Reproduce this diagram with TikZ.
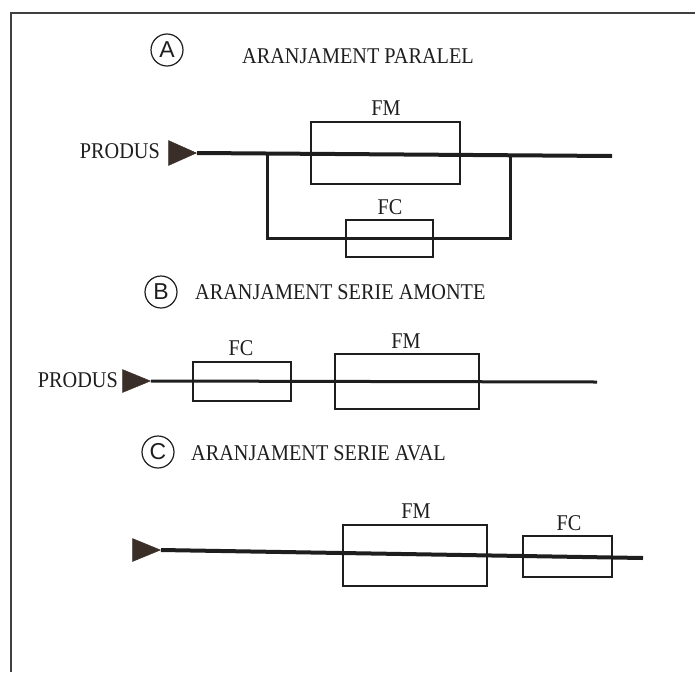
\documentclass[tikz,border=0pt]{standalone}
\usepackage{fontspec}
\setmainfont{Liberation Serif}
\newfontfamily\circfont{Liberation Sans}
\usetikzlibrary{shapes.geometric}
\definecolor{ink}{HTML}{1E1E1E}
\definecolor{tri}{HTML}{3A2E28}
\begin{document}
\begin{tikzpicture}[x=1pt,y=-1pt,
  box/.style 2 args={draw=ink,line width=1.3pt,inner sep=0pt,minimum width=#1,minimum height=#2},
  lbl/.style={inner sep=0pt,text=ink,xscale=0.9,font=\fontsize{22.5}{22.5}\selectfont},
  ttl/.style={inner sep=0pt,text=ink,anchor=west,xscale=0.9,font=\fontsize{22.5}{22.5}\selectfont},
  circ/.style={draw=ink,circle,line width=1.2pt,minimum size=32pt,inner sep=0pt,text=ink,font=\circfont\fontsize{23}{23}\selectfont},
  arrowhead/.style={isosceles triangle,isosceles triangle stretches,fill=tri,draw=tri,inner sep=0pt,minimum width=25pt,minimum height=28pt},
  flow/.style={line width=4pt,ink},
  byp/.style={line width=3pt,ink},
  frame/.style={line width=2pt,draw=ink!85}]
\useasboundingbox (0,0) rectangle (695,672);
% frame
\coordinate (f1) at (11,672); \coordinate (f2) at (11,13); \coordinate (f3) at (695,13);
\draw[frame] (f1) -- (f2) -- (f3);

% ===== A =====
\node[circ] (cA) at (167,50) {A};
\node[ttl] (tA) at (242,56) {ARANJAMENT PARALEL};
\node[lbl,anchor=east] (pA) at (160,151) {PRODUS};
\node[arrowhead,anchor=apex] (hA) at (197,153) {};
\coordinate (eA) at (612,156);
\coordinate (sA) at (267,154);
\coordinate (jA) at (510,155);
\coordinate (bA) at (267,238);
\draw[flow] (hA.apex) -- (eA);
\draw[byp] (sA) -- (bA) -| (jA);
\node[box={149pt}{62pt}] (fmA) at (385.5,153) {};
\node[box={87pt}{37pt}] (fcA) at (389.5,238.5) {};
\node[lbl] (lfmA) at (386,108) {FM};
\node[lbl] (lfcA) at (390,207) {FC};

% ===== B =====
\node[circ] (cB) at (161,292) {B};
\node[ttl] (tB) at (195,292) {ARANJAMENT SERIE AMONTE};
\node[lbl,anchor=east] (pB) at (118,380) {PRODUS};
\node[arrowhead,anchor=apex,minimum width=23pt] (hB) at (151,381) {};
\coordinate (eB) at (597,382);
\draw[byp] (hB.apex) -- (eB);
\node[box={98pt}{39pt}] (fcB) at (242,381.5) {};
\node[box={144pt}{55pt}] (fmB) at (407,381.5) {};
\node[lbl] (lfcB) at (241,348) {FC};
\node[lbl] (lfmB) at (406,341) {FM};

% ===== C =====
\node[circ] (cC) at (158,452) {C};
\node[ttl] (tC) at (191,453) {ARANJAMENT SERIE AVAL};
\node[arrowhead,anchor=apex,minimum width=23pt] (hC) at (161,550) {};
\coordinate (eC) at (643,558);
\draw[flow] (hC.apex) -- (eC);
\node[box={144pt}{61pt}] (fmC) at (415,555.5) {};
\node[box={89pt}{41pt}] (fcC) at (567.5,556.5) {};
\node[lbl] (lfmC) at (416,511) {FM};
\node[lbl] (lfcC) at (569,523) {FC};
\end{tikzpicture}
\end{document}
